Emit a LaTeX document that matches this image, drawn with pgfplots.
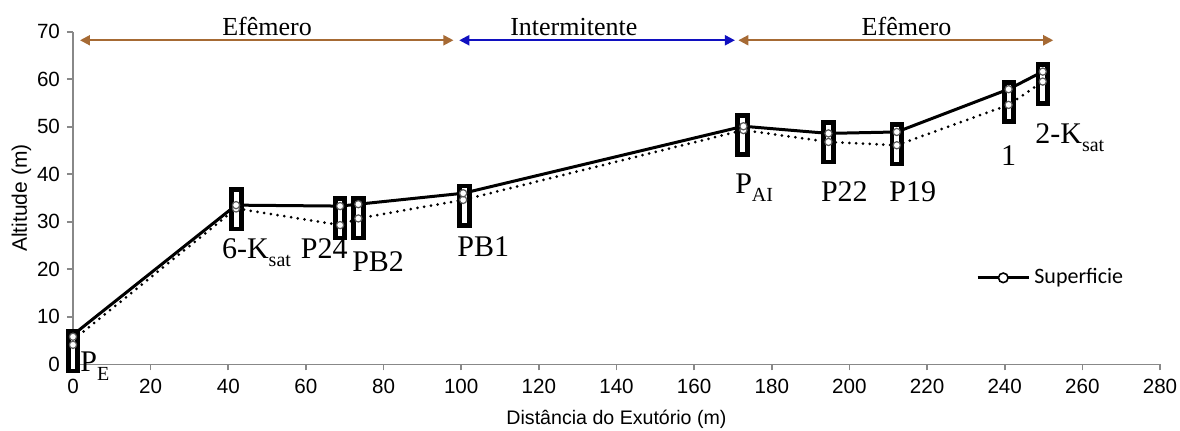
\documentclass[border=0pt]{standalone}
\usepackage{pgfplots}
\pgfplotsset{compat=1.18}
\usepackage{fontspec}
\setmainfont{Liberation Sans}
\newfontfamily\tnr{Liberation Serif}
\newfontfamily\calib{Carlito}
\usetikzlibrary{arrows.meta}

\definecolor{arrbrown}{RGB}{166,106,52}
\definecolor{arrblue}{RGB}{16,16,192}
\definecolor{axgray}{RGB}{136,136,136}

% rounded box drawn around each sampling point
\pgfdeclareplotmark{rbox}{%
  \pgfsetcornersarced{\pgfpoint{1.6pt}{1.6pt}}%
  \pgfpathmoveto{\pgfpoint{-2.4pt}{-9.8pt}}%
  \pgfpathlineto{\pgfpoint{2.4pt}{-9.8pt}}%
  \pgfpathlineto{\pgfpoint{2.4pt}{9.8pt}}%
  \pgfpathlineto{\pgfpoint{-2.4pt}{9.8pt}}%
  \pgfpathclose
  \pgfusepathqfillstroke}

\newcommand\lbl{\tnr\fontsize{15}{17}\selectfont}
\newcommand\sub[1]{\raisebox{-0.28em}{\fontsize{10}{10}\selectfont #1}}

\begin{document}
\begin{tikzpicture}
\useasboundingbox (-36.5pt,-32.85pt) rectangle (553.5pt,182.15pt);
\begin{axis}[
  scale only axis,
  width=543.5pt, height=166.3pt,
  xmin=0, xmax=280, ymin=0, ymax=70,
  xtick={0,20,...,280}, ytick={0,10,...,70},
  axis x line*=bottom, axis y line*=left,
  axis line style={axgray, line width=0.8pt, -},
  tick style={axgray, line width=0.8pt},
  tick align=outside,
  major tick length=3pt,
  tick label style={font=\fontsize{10.3}{11}\selectfont},
  xticklabel style={yshift=-1pt},
  /pgf/number format/assume math mode=true,
  xlabel={Distância do Exutório (m)},
  ylabel={Altitude (m)},
  xlabel style={font=\fontsize{9.8}{11}\selectfont, yshift=-1pt},
  ylabel style={font=\fontsize{10.5}{11}\selectfont, yshift=-4pt},
  clip=false,
  legend style={at={(axis cs:231,18.2)}, anchor=west, draw=none, fill=none,
    font=\calib\fontsize{11}{12}\selectfont},
  legend cell align=left,
  legend image code/.code={\draw[mark repeat=2, mark phase=2, #1]
    plot coordinates {(0cm,0cm) (0.45cm,0cm) (0.9cm,0cm)};},
]

% dotted series
\addplot[black, line width=1.5pt, line cap=round, dash pattern=on 0pt off 3.4pt, forget plot]
  coordinates {(0,5.1) (42,32.8) (68.8,29.3) (73.5,30.7) (100.5,34.6) (172.7,49.3)
               (194.6,46.8) (212.2,46.1) (241,54.6) (249.8,59.5)};
% solid series
\addplot[black, line width=1.5pt, forget plot]
  coordinates {(0,6.2) (42,33.5) (68.8,33.3) (73.5,33.7) (100.5,36.0) (172.7,50.1)
               (194.6,48.6) (212.2,48.9) (241,57.9) (249.8,61.6)};

% boxes
\addplot[only marks, mark=rbox, mark options={draw=black, fill=white, line width=2.4pt}, forget plot]
  coordinates {(0,2.7) (42.1,32.6) (68.8,30.7) (73.5,30.7) (100.8,33.4) (172.5,48.2)
               (194.6,46.7) (212.2,46.3) (241.1,55.2) (249.8,59.0)};

% circle markers
\addplot[only marks, mark=*, mark size=1.8pt, mark options={draw=gray!70!black, fill=white, line width=0.6pt}, forget plot]
  coordinates {(0,4.1) (42,32.8) (68.8,29.3) (73.5,30.7) (100.5,34.6) (172.7,49.3)
               (194.6,46.8) (212.2,46.1) (241,54.6) (249.8,59.5)};
\addplot[only marks, mark=*, mark size=1.8pt, mark options={draw=gray!70!black, fill=white, line width=0.6pt}, forget plot]
  coordinates {(0,5.8) (42,33.5) (68.8,33.3) (73.5,33.7) (100.5,36.0) (172.7,50.1)
               (194.6,48.6) (212.2,48.9) (241,57.9) (249.8,61.6)};

\addlegendimage{black, line width=1.5pt, mark=*, mark size=2.4pt,
  mark options={fill=white, line width=0.8pt}}
\addlegendentry{Superficie}

% flow regime arrows
\draw[arrbrown, line width=1pt, {Triangle[length=5pt,width=5pt]}-{Triangle[length=5pt,width=5pt]}]
  (axis cs:1.8,68.2) -- (axis cs:98,68.2);
\draw[arrblue, line width=1pt, {Triangle[length=5pt,width=5pt]}-{Triangle[length=5pt,width=5pt]}]
  (axis cs:99.5,68.2) -- (axis cs:170.5,68.2);
\draw[arrbrown, line width=1pt, {Triangle[length=5pt,width=5pt]}-{Triangle[length=5pt,width=5pt]}]
  (axis cs:171.4,68.2) -- (axis cs:252.5,68.2);
\node[font=\tnr\fontsize{13}{15}\selectfont, anchor=base] at (axis cs:50,69.1) {Efêmero};
\node[font=\tnr\fontsize{13}{15}\selectfont, anchor=base] at (axis cs:129,69.1) {Intermitente};
\node[font=\tnr\fontsize{13}{15}\selectfont, anchor=base] at (axis cs:214.7,69.1) {Efêmero};

% point labels
\node[anchor=base west, inner sep=0pt] at (axis cs:1.8,-1.6) {\lbl P\sub{E}};
\node[anchor=base west, inner sep=0pt] at (axis cs:38.3,22.3) {\lbl 6-K\sub{sat}};
\node[anchor=base, inner sep=0pt] at (axis cs:64.7,22.3) {\lbl P24};
\node[anchor=base, inner sep=0pt] at (axis cs:78.6,19.5) {\lbl PB2};
\node[anchor=base, inner sep=0pt] at (axis cs:105.7,22.6) {\lbl PB1};
\node[anchor=base west, inner sep=0pt] at (axis cs:170.5,36.0) {\lbl P\sub{AI}};
\node[anchor=base, inner sep=0pt] at (axis cs:198.7,34.2) {\lbl P22};
\node[anchor=base, inner sep=0pt] at (axis cs:216.3,34.2) {\lbl P19};
\node[anchor=base, inner sep=0pt] at (axis cs:241,41.9) {\lbl 1};
\node[anchor=base west, inner sep=0pt] at (axis cs:247.8,46.5) {\lbl 2-K\sub{sat}};
\end{axis}
\end{tikzpicture}
\end{document}
